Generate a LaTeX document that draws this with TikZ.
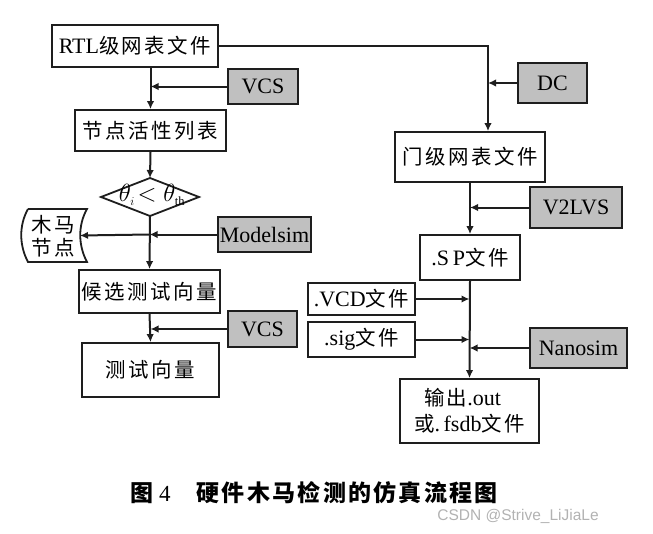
\documentclass[tikz,border=0pt]{standalone}
\usepackage{fontspec}
\setmainfont{Liberation Serif}
\newfontfamily\cjkfont[LetterSpace=12,Scale=0.93]{Noto Sans CJK SC}
\newfontfamily\cjkcap[LetterSpace=10]{Noto Sans CJK SC}
\newfontfamily\wmfont{Liberation Sans}
\usetikzlibrary{arrows.meta}
\definecolor{boxgray}{RGB}{192,192,192}
\definecolor{lnc}{RGB}{30,30,30}
\newcommand\zh[1]{{\cjkfont #1}}
\begin{document}
\begin{tikzpicture}[x=1pt,y=-1pt,
  font=\fontsize{22}{26}\selectfont,
  box/.style={draw=lnc,line width=1.8pt,fill=white,inner sep=0pt,align=center},
  tool/.style={box,fill=boxgray},
  arr/.style={draw=lnc,line width=2pt,-{Latex[length=8pt,width=7.5pt]}},
  ln/.style={draw=lnc,line width=1.8pt}]
\useasboundingbox (0,0) rectangle (653,533);
% left column
\node[box,minimum width=166pt,minimum height=42pt] (rtl) at (135,46) {RTL\zh{级网表文件}};
\node[tool,minimum width=70pt,minimum height=35pt] (vcsa) at (263,86.5) {VCS};
\node[box,minimum width=151pt,minimum height=41pt] (n1) at (150.5,130.5) {\zh{节点活性列表}};
\coordinate (dtop) at (150,178);
\coordinate (dbot) at (150,216);
\draw[ln,fill=white] (101,197) -- (dtop) -- (199,197) -- (dbot) -- cycle;
\node[inner sep=0pt,font=\fontsize{25}{28}\selectfont] (dtext) at (152,195) {$\theta_{\scriptscriptstyle i}\!<\theta_{\scriptscriptstyle\mathrm{th}}$};
\draw[ln,fill=white] (28,209) -- (87,209) .. controls (78,225) and (78,245) .. (87,262) -- (28,262) .. controls (19,245) and (19,225) .. (28,209);
\coordinate (tro) at (80,235.5);
\node[inner sep=0pt,align=center] (trotext) at (53,236) {\zh{木马}\\[-3pt]\zh{节点}};
\node[tool,minimum width=93pt,minimum height=35pt] (msim) at (264.5,234.5) {Modelsim};
\node[box,minimum width=141pt,minimum height=43pt] (cand) at (149.5,291.5) {\zh{候选测试向量}};
\node[tool,minimum width=69pt,minimum height=36pt] (vcsb) at (262.5,329) {VCS};
\node[box,minimum width=137pt,minimum height=54pt] (test) at (150.5,370) {\zh{测试向量}};
% right column
\node[tool,minimum width=69pt,minimum height=40pt] (dc) at (552.5,83) {DC};
\node[box,minimum width=150pt,minimum height=50pt] (gate) at (470,157) {\zh{门级网表文件}};
\node[tool,minimum width=92pt,minimum height=41pt] (v2l) at (576,207.5) {V2LVS};
\node[box,minimum width=100pt,minimum height=45pt] (sp) at (470,257.5) {.S\,P\zh{文件}};
\node[box,minimum width=107pt,minimum height=32pt] (vcd) at (361.5,299) {.VCD\zh{文件}};
\node[box,minimum width=107pt,minimum height=35pt] (sig) at (361.5,339.5) {.sig\zh{文件}};
\node[tool,minimum width=97pt,minimum height=40pt] (nano) at (578.5,348) {Nanosim};
\node[box,minimum width=139pt,minimum height=64pt] (out) at (469.5,411) {\zh{输出}.out\hspace*{14pt}\\[0pt]\zh{或}.\,fsdb\zh{文件}};
\coordinate (corner) at (488,46);
% connectors left
\draw[arr] (rtl.south -| n1.north) -- (n1.north);
\draw[arr] (vcsa.west) -- (vcsa.west -| n1.north);
\draw[arr] (n1.south) -- (dtop);
\draw[arr] (dbot) -- (cand.north);
\draw[arr] (msim.west) -- (msim.west -| cand.north);
\draw[arr] (msim.west -| cand.north) -- (tro);
\draw[arr] (cand.south) -- (test.north);
\draw[arr] (vcsb.west) -- (vcsb.west -| test.north);
% connectors right
\draw[arr] (rtl.east) -- (corner) -- (corner |- gate.north);
\draw[arr] (dc.west) -- (dc.west -| corner);
\draw[arr] (gate.south) -- (sp.north);
\draw[arr] (v2l.west) -- (v2l.west -| sp.north);
\draw[arr] (sp.south) -- (out.north);
\draw[arr] (vcd.east) -- (vcd.east -| out.north);
\draw[arr] (sig.east) -- (sig.east -| out.north);
\draw[arr] (nano.west) -- (nano.west -| out.north);
% caption
\node[inner sep=0pt] (cap) at (314,493) {\fontsize{23}{26}\selectfont\cjkcap\bfseries 图\hspace{6pt}\mdseries\rmfamily 4\hspace{26pt}\cjkcap\bfseries 硬件木马检测的仿真流程图};
\node[inner sep=0pt,text=black!30] (wm) at (518,516) {\wmfont\fontsize{15.5}{18}\selectfont CSDN @Strive\_LiJiaLe};
\end{tikzpicture}
\end{document}
